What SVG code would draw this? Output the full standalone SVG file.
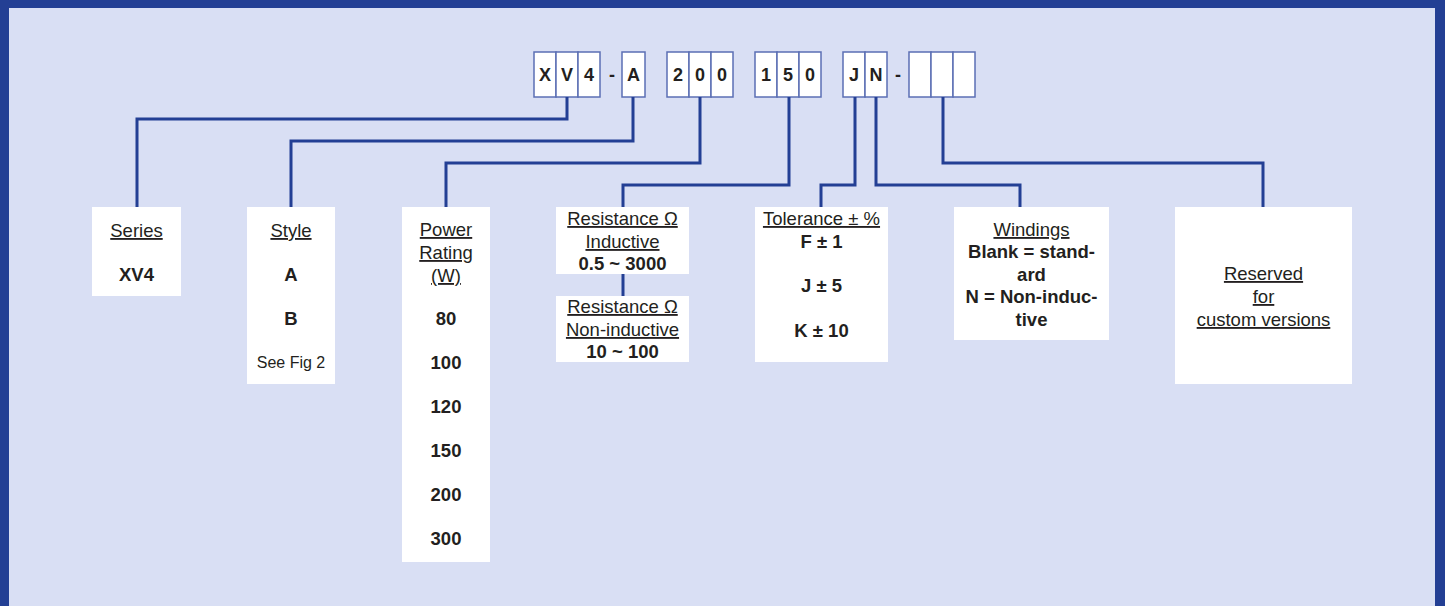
<svg xmlns="http://www.w3.org/2000/svg" width="1445" height="606" viewBox="0 0 1445 606">
<style>
.frame{fill:#233f94}
.bg{fill:#d9dff4}
.box{fill:#ffffff}
.code{fill:#ffffff;stroke:#5b6fb4;stroke-width:1.5}
.t{font-family:"Liberation Sans",Arial,sans-serif;font-size:18.5px;fill:#231f20;text-anchor:middle}
.u{text-decoration:underline}
.b{font-weight:bold}
.s{font-size:16px}
.c{font-family:"Liberation Sans",Arial,sans-serif;font-size:18px;font-weight:bold;fill:#231f20;text-anchor:middle}
.ln{fill:none;stroke:#233f94;stroke-width:3}
</style>
<rect class="frame" x="0" y="0" width="1445" height="606"/>
<rect class="bg" x="9" y="8" width="1426" height="598"/>

<g id="code">
  <rect class="code" x="534" y="52" width="22" height="45"/>
  <rect class="code" x="556" y="52" width="22" height="45"/>
  <rect class="code" x="578" y="52" width="22" height="45"/>
  <text class="c" x="545" y="81">X</text>
  <text class="c" x="567" y="81">V</text>
  <text class="c" x="589" y="81">4</text>
  <text class="c" x="612" y="81">-</text>
  <rect class="code" x="622" y="52" width="23" height="45"/>
  <text class="c" x="633.5" y="81">A</text>
  <rect class="code" x="667" y="52" width="22" height="45"/>
  <rect class="code" x="689" y="52" width="22" height="45"/>
  <rect class="code" x="711" y="52" width="22" height="45"/>
  <text class="c" x="678" y="81">2</text>
  <text class="c" x="700" y="81">0</text>
  <text class="c" x="722" y="81">0</text>
  <rect class="code" x="755" y="52" width="22" height="45"/>
  <rect class="code" x="777" y="52" width="22" height="45"/>
  <rect class="code" x="799" y="52" width="22" height="45"/>
  <text class="c" x="766" y="81">1</text>
  <text class="c" x="788" y="81">5</text>
  <text class="c" x="810" y="81">0</text>
  <rect class="code" x="843" y="52" width="22" height="45"/>
  <rect class="code" x="865" y="52" width="22" height="45"/>
  <text class="c" x="854" y="81">J</text>
  <text class="c" x="876" y="81">N</text>
  <text class="c" x="898" y="81">-</text>
  <rect class="code" x="909" y="52" width="22" height="45"/>
  <rect class="code" x="931" y="52" width="22" height="45"/>
  <rect class="code" x="953" y="52" width="22" height="45"/>
</g>

<g id="connectors">
  <polyline class="ln" points="567,97 567,119 137,119 137,207"/>
  <polyline class="ln" points="633,97 633,141 291,141 291,207"/>
  <polyline class="ln" points="700,97 700,163 446,163 446,207"/>
  <polyline class="ln" points="789,97 789,185 623,185 623,207"/>
  <line class="ln" x1="623" y1="274" x2="623" y2="296"/>
  <polyline class="ln" points="855,97 855,185 821,185 821,207"/>
  <polyline class="ln" points="876,97 876,185 1020,185 1020,207"/>
  <polyline class="ln" points="943,97 943,163 1263,163 1263,207"/>
</g>

<g id="series">
  <rect class="box" x="92" y="207" width="89" height="89"/>
  <text class="t u" x="136.5" y="237">Series</text>
  <text class="t b" x="136.5" y="281">XV4</text>
</g>

<g id="style">
  <rect class="box" x="247" y="207" width="88" height="177"/>
  <text class="t u" x="291" y="237">Style</text>
  <text class="t b" x="291" y="281">A</text>
  <text class="t b" x="291" y="325">B</text>
  <text class="t s" x="291" y="368">See Fig 2</text>
</g>

<g id="power">
  <rect class="box" x="402" y="207" width="88" height="355"/>
  <text class="t u" x="446" y="236">Power</text>
  <text class="t u" x="446" y="259">Rating</text>
  <text class="t u" x="446" y="282">(W)</text>
  <text class="t b" x="446" y="325">80</text>
  <text class="t b" x="446" y="369">100</text>
  <text class="t b" x="446" y="413">120</text>
  <text class="t b" x="446" y="457">150</text>
  <text class="t b" x="446" y="501">200</text>
  <text class="t b" x="446" y="545">300</text>
</g>

<g id="res-inductive">
  <rect class="box" x="556" y="207" width="133" height="67"/>
  <text class="t u" x="622.5" y="225">Resistance Ω</text>
  <text class="t u" x="622.5" y="248">Inductive</text>
  <text class="t b" x="622.5" y="270">0.5 ~ 3000</text>
</g>

<g id="res-noninductive">
  <rect class="box" x="556" y="296" width="133" height="66"/>
  <text class="t u" x="622.5" y="313">Resistance Ω</text>
  <text class="t u" x="622.5" y="336">Non-inductive</text>
  <text class="t b" x="622.5" y="358">10 ~ 100</text>
</g>

<g id="tolerance">
  <rect class="box" x="755" y="207" width="133" height="155"/>
  <text class="t u" x="821.5" y="225">Tolerance ± %</text>
  <text class="t b" x="821.5" y="248">F ± 1</text>
  <text class="t b" x="821.5" y="292">J ± 5</text>
  <text class="t b" x="821.5" y="337">K ± 10</text>
</g>

<g id="windings">
  <rect class="box" x="954" y="207" width="155" height="133"/>
  <text class="t u" x="1031.5" y="236">Windings</text>
  <text class="t b" x="1031.5" y="258">Blank = stand-</text>
  <text class="t b" x="1031.5" y="281">ard</text>
  <text class="t b" x="1031.5" y="303">N = Non-induc-</text>
  <text class="t b" x="1031.5" y="326">tive</text>
</g>

<g id="reserved">
  <rect class="box" x="1175" y="207" width="177" height="177"/>
  <text class="t u" x="1263.5" y="280">Reserved</text>
  <text class="t u" x="1263.5" y="303">for</text>
  <text class="t u" x="1263.5" y="326">custom versions</text>
</g>
</svg>
